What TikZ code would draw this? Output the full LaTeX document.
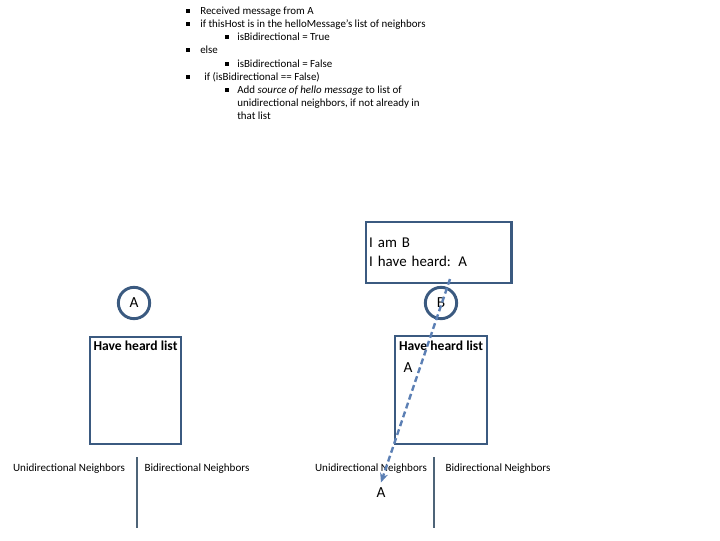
\documentclass[tikz,border=0pt]{standalone}
\usepackage{fontspec}
\setmainfont{Carlito}
\usepackage{tikz}
\usetikzlibrary{arrows.meta}

\definecolor{boxblue}{HTML}{3B5A80}
\definecolor{arrowblue}{HTML}{5B7FB4}
\definecolor{rulegray}{HTML}{4E6478}

\tikzset{
    bul/.style={anchor=base west, inner sep=0pt, font=\fontsize{8.2}{9.8}\selectfont},
    sq/.style={fill=black, minimum size=2.4pt, inner sep=0pt},
    cbox/.style={draw=boxblue, line width=2.2pt},
    small/.style={font=\fontsize{8.3}{9}\selectfont, inner sep=0pt},
}

\begin{document}
\begin{tikzpicture}[x=0.75pt, y=-0.75pt]
    \useasboundingbox (0,0) rectangle (720,540);

    % pseudo code
    \node[bul] (l1) at (200,14.5) {Received message from A};
    \node[bul] (l2) at (200,27.5) {if thisHost is in the helloMessage’s list of neighbors};
    \node[bul] (l3) at (237,40.5) {isBidirectional = True};
    \node[bul] (l4) at (200,53.5) {else};
    \node[bul] (l5) at (237,67.5) {isBidirectional = False};
    \node[bul] (l6) at (204,80.5) {if (isBidirectional == False)};
    \node[bul, align=left, anchor=north west] (l7) at (237,86)
        {Add \textit{source of hello message} to list of\\
         unidirectional neighbors, if not already in\\
         that list};
    \foreach \x/\y in {188/11, 188/24, 227/37, 188/50, 227/64, 188/77, 227/90}
        \node[sq] at (\x,\y) {};

    % host B message
    \node[cbox, minimum width=108.75pt, minimum height=45.75pt, text width=104pt,
          inner xsep=2.4pt, align=left, font=\fontsize{11.2}{14.2}\selectfont] (msgB) at (438.5,252.5)
        {I am B\\ I have heard: A};

    % hosts
    \node[cbox, circle, minimum size=23.5pt, inner sep=0pt, font=\fontsize{11.5}{13}\selectfont] (A) at (134,303) {A};
    \node[cbox, circle, minimum size=23.5pt, inner sep=0pt, font=\fontsize{11.5}{13}\selectfont] (B) at (441,303) {B};

    % have heard lists
    \node[cbox, minimum width=68.25pt, minimum height=80.25pt] (hhA) at (135.5,390.5) {};
    \node[cbox, minimum width=69pt, minimum height=81pt] (hhB) at (441,390) {};
    \node[font=\bfseries\fontsize{10.2}{11}\selectfont, inner sep=0pt] (tA) at (135.5,345.5) {Have heard list};
    \node[font=\bfseries\fontsize{10.2}{11}\selectfont, inner sep=0pt] (tB) at (441,345.5) {Have heard list};
    \node[font=\fontsize{11.5}{13}\selectfont, inner sep=0pt] (hA) at (408,368) {A};

    % neighbor tables
    \foreach \n/\u/\v/\b in {L/69/137/197, R/371/434/498} {
        \node[small] (uni\n) at (\u,469) {Unidirectional Neighbors};
        \node[small] (bi\n) at (\b,469) {Bidirectional Neighbors};
        \coordinate (top\n) at (\v,457);
        \coordinate (bot\n) at (\v,528);
        \draw[rulegray, line width=0.9pt] (top\n) -- (bot\n);
    }
    \node[font=\fontsize{11.5}{13}\selectfont, inner sep=0pt] (uA) at (381,493) {A};

    % heard A moves to unidirectional list
    \coordinate (src) at (450,279);
    \draw[arrowblue, line width=1.8pt, dash pattern=on 4.5pt off 2.5pt, -{Stealth[length=7pt, width=6pt]}]
        (src) -- ([yshift=4pt]uA.north);
\end{tikzpicture}
\end{document}
